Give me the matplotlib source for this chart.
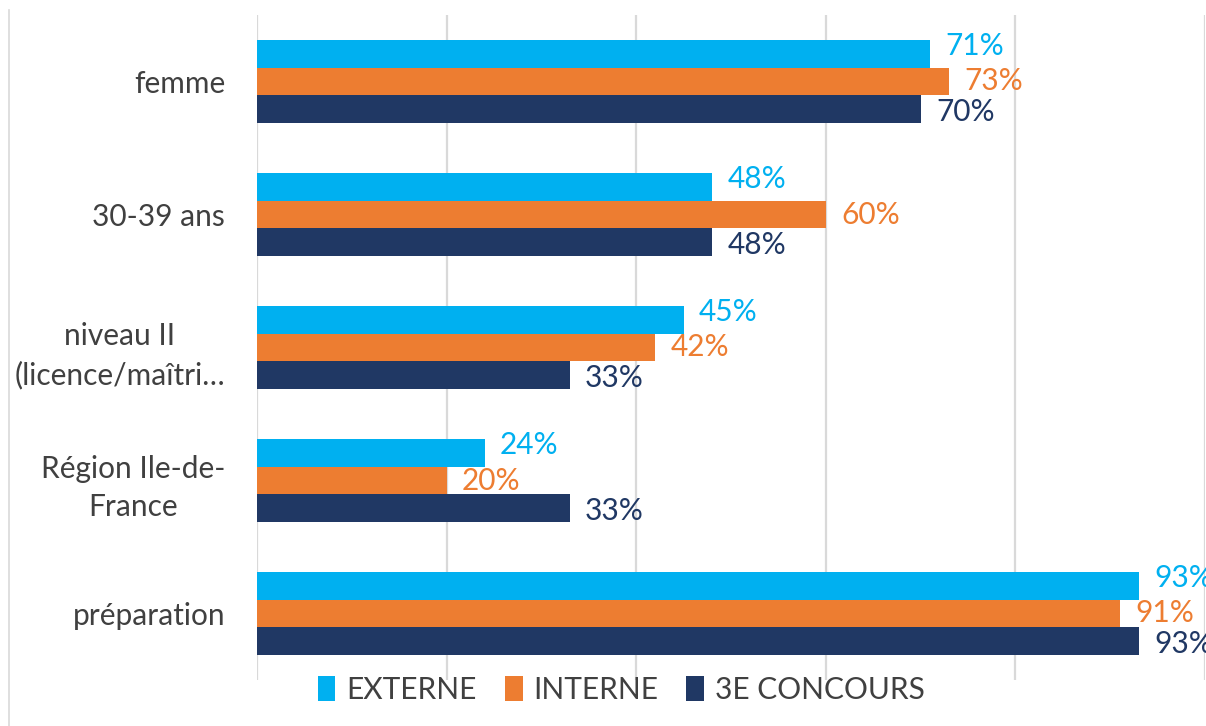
import matplotlib.pyplot as plt
import numpy as np
from matplotlib.lines import Line2D

# données
categories = ["femme", "30-39 ans", "niveau II\n(licence/maîtri…", "Région Ile-de-\nFrance", "préparation"]
series = ["EXTERNE", "INTERNE", "3E CONCOURS"]
externe = [71, 48, 45, 24, 93]
interne = [73, 60, 42, 20, 91]
concours3 = [70, 48, 33, 33, 93]

couleurs = ["#00B0F0", "#ED7D31", "#203864"]
gris_texte = "#404040"

plt.rcParams['font.family'] = ['Lato', 'DejaVu Sans']
taille = 21.5

fig = plt.figure(figsize=(12.06, 7.26), dpi=100)
ax = fig.add_axes([257/1206, 1 - 680/726, 948/1206, 665/726])

y = np.arange(len(categories))
h = 0.206
valeurs = [externe, interne, concours3]
decal_y = [-6, 0, 2]  # petit décalage vertical des étiquettes (en points)
for i, (nom, vals) in enumerate(zip(series, valeurs)):
    pos = y + (i - 1) * h
    ax.barh(pos, vals, height=h, color=couleurs[i], label=nom, zorder=3)
    for p, v in zip(pos, vals):
        ax.annotate(f"{v}%", (v, p), xytext=(11, -decal_y[i]), textcoords='offset points',
                    ha='left', va='center', color=couleurs[i], fontsize=taille,
                    annotation_clip=False)

ax.set_xlim(0, 100)
ax.set_ylim(4.5, -0.5)
ax.set_xticks(np.arange(0, 101, 20))
ax.set_xticklabels([])
ax.tick_params(axis='x', length=0)
ax.grid(axis='x', color='#D9D9D9', linewidth=1.6, zorder=0)
for s in ax.spines.values():
    s.set_visible(False)

ax.set_yticks(y)
ax.set_yticklabels(categories, fontsize=taille, color=gris_texte)
ax.tick_params(axis='y', length=0, pad=23)
for t in ax.get_yticklabels():
    t.set_multialignment('center')
    t.set_linespacing(1.45)

leg = fig.legend(loc='center', bbox_to_anchor=(0.515, 1 - 690/726), ncol=3, frameon=False,
                 fontsize=taille, handlelength=0.6, handleheight=0.9, handletextpad=0.35,
                 columnspacing=0.95, labelcolor=gris_texte)

# bordure gauche du cadre
fig.add_artist(Line2D([9/1206, 9/1206], [0, 1 - 10/726], color='#D9D9D9', linewidth=1.2))

fig.savefig("out.png", dpi=100)
